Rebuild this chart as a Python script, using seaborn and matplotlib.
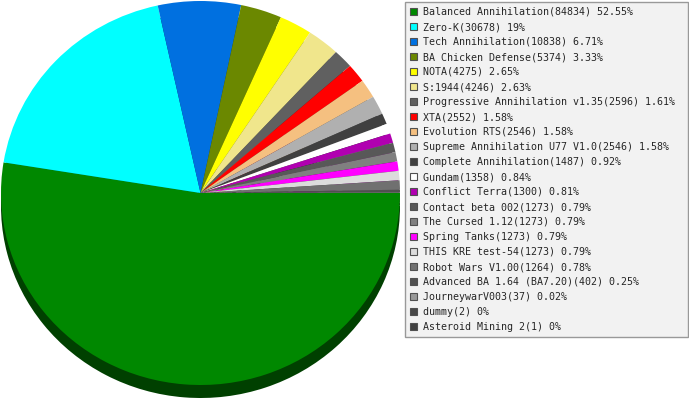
import matplotlib
matplotlib.use("Agg")
import matplotlib.pyplot as plt
import matplotlib.colors as mcolors
from matplotlib.patches import Patch
import seaborn as sns

# Games played per mod
mods = [
    "Balanced Annihilation", "Zero-K", "Tech Annihilation", "BA Chicken Defense",
    "NOTA", "S:1944", "Progressive Annihilation v1.35", "XTA", "Evolution RTS",
    "Supreme Annihilation U77 V1.0", "Complete Annihilation", "Gundam",
    "Conflict Terra", "Contact beta 002", "The Cursed 1.12", "Spring Tanks",
    "THIS KRE test-54", "Robot Wars V1.00", "Advanced BA 1.64 (BA7.20)",
    "JourneywarV003", "dummy", "Asteroid Mining 2",
]
games = [
    84834, 30678, 10838, 5374, 4275, 4246, 2596, 2552, 2546, 2546, 1487, 1358,
    1300, 1273, 1273, 1273, 1273, 1264, 402, 37, 2, 1,
]
colors = [
    "#008800", "#00ffff", "#0070e0", "#6b8800", "#ffff00", "#f0e68c",
    "#606060", "#ff0000", "#f5c080", "#b0b0b0", "#404040", "#ffffff",
    "#b000b0", "#585858", "#808080", "#ff00ff", "#dcdcdc", "#707070",
    "#505050", "#989898", "#484848", "#404040",
]

sns.set_style("white")
plt.rcParams["font.family"] = ["DejaVu Sans Mono"]

W, H = 689, 400
fig = plt.figure(figsize=(W / 100, H / 100), dpi=100)
fig.patch.set_facecolor("white")

# Pie area: elliptical top face with a dark extruded side below it
rx, ry = 199.5, 192.0
depth = 13.0
top_px, bottom_px = 1.0, 399.0
ax = fig.add_axes([1 / W, (H - bottom_px) / H, 2 * rx / W, (bottom_px - top_px) / H])
ax.axis("off")

shade = [tuple(c * 0.47 for c in mcolors.to_rgb(col)) for col in colors]
d = depth / ry
ax.pie(games, colors=shade, startangle=0, counterclock=False,
       center=(0, -d), wedgeprops=dict(linewidth=0))
wedges, _ = ax.pie(games, colors=colors, startangle=0, counterclock=False,
                   center=(0, 0), wedgeprops=dict(linewidth=0, antialiased=True))
ax.set_aspect("auto")
ax.set_xlim(-1, 1)
ax.set_ylim(-1 - (bottom_px - top_px - 2 * ry) / ry, 1)

total = sum(games)
labels = [f"{m}({g}) {round(100 * g / total, 2):g}%" for m, g in zip(mods, games)]
handles = [Patch(facecolor=c, edgecolor="#505050", linewidth=0.8) for c in colors]

leg = fig.legend(
    handles, labels,
    loc="upper left",
    bbox_to_anchor=(405 / W, (H - 339) / H, 283 / W, 337 / H),
    bbox_transform=fig.transFigure,
    mode="expand", borderaxespad=0,
    fontsize=7.2, handlelength=0.7, handleheight=0.7, handletextpad=0.6,
    labelspacing=0.5, borderpad=0.5,
    frameon=True, fancybox=False, framealpha=1,
    facecolor="#f2f2f2", edgecolor="#999999",
)
leg.get_frame().set_linewidth(1.0)

fig.savefig("out.png", dpi=100, facecolor="white")
